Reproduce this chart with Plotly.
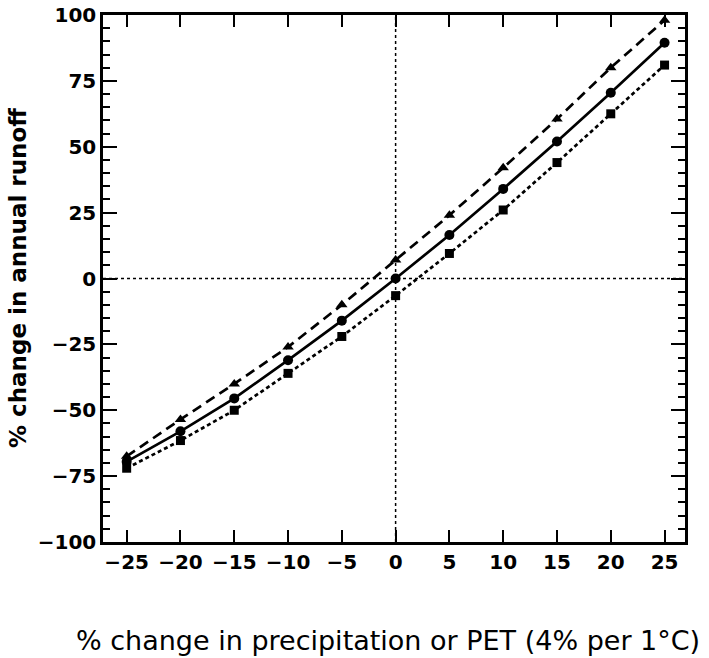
import plotly.graph_objects as go

x_change = [-25, -20, -15, -10, -5, 0, 5, 10, 15, 20, 25]
runoff_triangle = [-67.5, -53.5, -40, -26, -10, 7, 24, 42, 60.5, 80, 98]
runoff_circle = [-69.5, -58, -45.5, -31, -16, 0, 16.5, 34, 52, 70.5, 89.5]
runoff_square = [-72, -61.5, -50, -36, -22, -6.5, 9.5, 26, 44, 62.5, 81]

y_ticks = [-100, -75, -50, -25, 0, 25, 50, 75, 100]
x_ticks = [-25, -20, -15, -10, -5, 0, 5, 10, 15, 20, 25]

fig = go.Figure()

# zero reference lines
fig.add_trace(go.Scatter(x=[0, 0], y=[-100, 100], mode="lines",
                         line=dict(color="black", width=1.5, dash="dot"),
                         showlegend=False, hoverinfo="skip"))
fig.add_trace(go.Scatter(x=[-27.2, 26.9], y=[0, 0], mode="lines",
                         line=dict(color="black", width=1.5, dash="dot"),
                         showlegend=False, hoverinfo="skip"))

fig.add_trace(go.Scatter(x=x_change, y=runoff_triangle, mode="lines+markers",
                         line=dict(color="black", width=2.7, dash="10px,6px"),
                         marker=dict(symbol="triangle-up", size=10, color="black"),
                         showlegend=False))
fig.add_trace(go.Scatter(x=x_change, y=runoff_circle, mode="lines+markers",
                         line=dict(color="black", width=2.7),
                         marker=dict(symbol="circle", size=10, color="black"),
                         showlegend=False))
fig.add_trace(go.Scatter(x=x_change, y=runoff_square, mode="lines+markers",
                         line=dict(color="black", width=2.7, dash="4px,3px"),
                         marker=dict(symbol="square", size=9, color="black"),
                         showlegend=False))

tick_font = dict(family="DejaVu Sans", size=20, color="black", weight="bold")

fig.update_layout(
    width=709, height=658,
    margin=dict(l=103, r=24, t=15, b=116),
    paper_bgcolor="white", plot_bgcolor="white",
    font=dict(family="DejaVu Sans", color="black"),
    xaxis=dict(range=[-27.2, 26.9], tickvals=x_ticks, ticks="inside", ticklen=12,
               tickwidth=2, tickcolor="black", showline=True, linewidth=2.5,
               linecolor="black", mirror="ticks", showgrid=False, zeroline=False,
               tickfont=tick_font, automargin=False),
    yaxis=dict(range=[-100, 100], tickvals=y_ticks, ticks="inside", ticklen=14,
               tickwidth=2, tickcolor="black", showline=True, linewidth=2.5,
               linecolor="black", mirror="ticks", showgrid=False, zeroline=False,
               tickfont=tick_font, automargin=False,
               minor=dict(dtick=5, ticks="inside", ticklen=7, tickwidth=2,
                          tickcolor="black", showgrid=False)),
    annotations=[
        dict(text="% change in precipitation or PET (4% per 1°C)",
             xref="paper", yref="paper", x=(388 - 103) / (709 - 103 - 24),
             y=-(640 - 542) / (658 - 15 - 116),
             xanchor="center", yanchor="middle", showarrow=False,
             font=dict(family="DejaVu Sans", size=27, color="black")),
        dict(text="% change in annual runoff", textangle=-90,
             xref="paper", yref="paper", x=-(103 - 18) / (709 - 103 - 24),
             y=(542 - 278) / (658 - 15 - 116),
             xanchor="center", yanchor="middle", showarrow=False,
             font=dict(family="DejaVu Sans", size=23, color="black", weight="bold")),
    ],
)

fig.write_html("out.html")
